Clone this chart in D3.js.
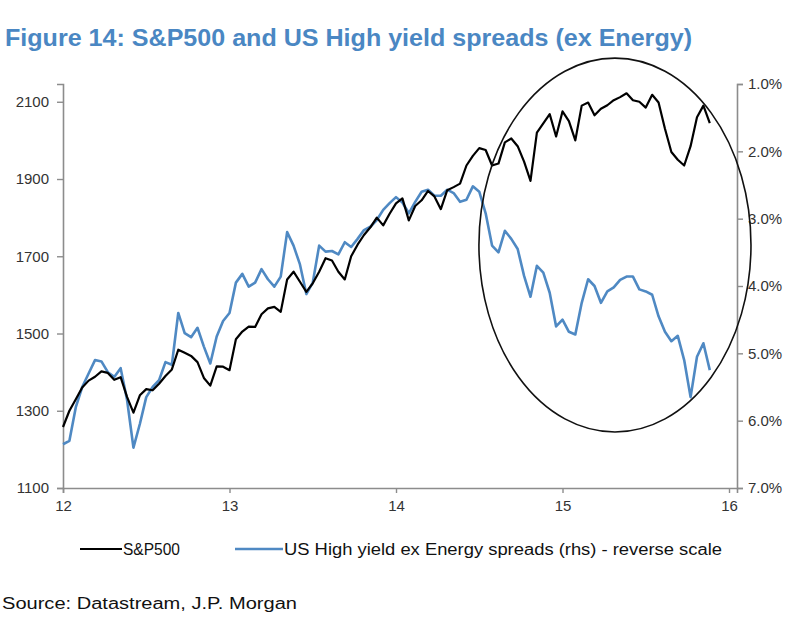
<!DOCTYPE html>
<html>
<head>
<meta charset="utf-8">
<script src="https://cdn.jsdelivr.net/npm/d3@7"></script>
<style>
  body { margin: 0; background: #fff; }
  text { font-family: "Liberation Sans", Arial, sans-serif; }
</style>
</head>
<body>
<div id="chart"></div>
<script>
// Data (roughly one point every two weeks from Jan 2012)
var sp500 = [
    1258, 1300, 1330, 1360, 1378, 1388, 1402, 1398, 1380, 1387,
    1336, 1295, 1340, 1356, 1353, 1370, 1390, 1407, 1458, 1450,
    1442, 1426, 1385, 1365, 1415, 1414, 1405, 1485, 1505, 1518,
    1517, 1550, 1565, 1569, 1556, 1640, 1660, 1634, 1608, 1630,
    1660, 1695, 1689, 1660, 1640, 1700, 1730, 1755, 1775, 1800,
    1780, 1810, 1837, 1850, 1793, 1830, 1845, 1869, 1855, 1822,
    1871, 1879, 1888, 1935, 1960, 1980, 1975, 1935, 1940, 1995,
    2005, 1985, 1945, 1895, 2020, 2044, 2068, 2010, 2075, 2050,
    2000, 2090, 2098, 2065, 2082, 2091, 2104, 2112, 2122, 2104,
    2100, 2085, 2118, 2098, 2030, 1970, 1950, 1935, 1985, 2060,
    2090, 2045
];

var hySpread = [
    6.35, 6.30, 5.80, 5.50, 5.30, 5.10, 5.12, 5.28, 5.35, 5.22,
    5.69, 6.40, 6.05, 5.65, 5.50, 5.40, 5.13, 5.17, 4.40, 4.70,
    4.76, 4.62, 4.90, 5.15, 4.75, 4.52, 4.40, 3.95, 3.82, 4.01,
    3.95, 3.75, 3.90, 4.01, 3.86, 3.20, 3.40, 3.68, 4.12, 3.95,
    3.40, 3.49, 3.48, 3.53, 3.35, 3.42, 3.30, 3.17, 3.12, 3.02,
    2.87, 2.77, 2.68, 2.76, 2.92, 2.75, 2.60, 2.57, 2.66, 2.66,
    2.57, 2.62, 2.75, 2.72, 2.52, 2.60, 2.92, 3.40, 3.50, 3.18,
    3.30, 3.45, 3.85, 4.16, 3.70, 3.80, 4.10, 4.60, 4.50, 4.68,
    4.72, 4.25, 3.90, 4.00, 4.25, 4.08, 4.02, 3.91, 3.86, 3.86,
    4.05, 4.08, 4.13, 4.45, 4.68, 4.82, 4.74, 5.10, 5.65, 5.05,
    4.85, 5.25
];

var startYear = 12;
var pointsPerYear = 26;

var xTicks = [12, 13, 14, 15, 16];
var leftTicks = [1100, 1300, 1500, 1700, 1900, 2100];
var rightTicks = [1, 2, 3, 4, 5, 6, 7];

var seriesNames = ["S&P500", "US High yield ex Energy spreads (rhs) - reverse scale"];

// circled area: centre (year, S&P level) and radii in the same units
var circleArea = { cx: 15.315, cy: 1729, rx: 0.817, ry: 484 };

var svgWidth = 812;
var svgHeight = 633;

var margin = { top: 84, left: 63, right: 75, bottom: 145 };
var width = svgWidth - margin.left - margin.right;
var height = svgHeight - margin.top - margin.bottom;

var blue = "#4f89c3";
var axisColor = "#8c8c8c";

var svg = d3.select("#chart")
    .append("svg")
    .attr("width", svgWidth)
    .attr("height", svgHeight);

svg.append("rect")
    .attr("width", svgWidth)
    .attr("height", svgHeight)
    .attr("fill", "#fff");

// Title
svg.append("text")
    .attr("x", 5)
    .attr("y", 46)
    .attr("fill", "#4a87c3")
    .style("font-size", "24px")
    .style("font-weight", "bold")
    .attr("textLength", 687)
    .attr("lengthAdjust", "spacingAndGlyphs")
    .text("Figure 14: S&P500 and US High yield spreads (ex Energy)");

var chartGroup = svg.append("g")
    .attr("transform", `translate(${margin.left}, ${margin.top})`);

// Scales
var xScale = d3.scaleLinear()
    .domain([12, 16.048])
    .range([0, width]);

var yLeft = d3.scaleLinear()
    .domain([1100, 2146])
    .range([height, 0]);

// reverse scale: tight spreads at the top
var yRight = d3.scaleLinear()
    .domain([1, 7])
    .range([0, height]);

var dateOf = function(i) { return startYear + i / pointsPerYear; };

// Axes
var bottomAxis = d3.axisBottom(xScale)
    .tickValues(xTicks)
    .tickFormat(d3.format("d"))
    .tickSizeOuter(0)
    .tickSize(5)
    .tickPadding(7);

var leftAxis = d3.axisLeft(yLeft)
    .tickValues(leftTicks)
    .tickFormat(d3.format("d"))
    .tickSizeOuter(0)
    .tickSize(6)
    .tickPadding(8);

var rightAxis = d3.axisRight(yRight)
    .tickValues(rightTicks)
    .tickFormat(function(d) { return d3.format(".1f")(d) + "%"; })
    .tickSizeOuter(0)
    .tickSize(6)
    .tickPadding(5);

function styleAxis(g) {
    g.select(".domain").attr("stroke", axisColor).attr("stroke-width", 1.6);
    g.selectAll(".tick line").attr("stroke", axisColor).attr("stroke-width", 1.4);
    g.selectAll(".tick text")
        .attr("fill", "#333")
        .style("font-size", "15px")
        .style("font-family", "'Liberation Sans', Arial, sans-serif");
}

chartGroup.append("g")
    .attr("transform", `translate(0, ${height})`)
    .call(bottomAxis)
    .call(styleAxis);

chartGroup.append("g")
    .call(leftAxis)
    .call(styleAxis);

chartGroup.append("g")
    .attr("transform", `translate(${width}, 0)`)
    .call(rightAxis)
    .call(styleAxis);

// Lines
var spLine = d3.line()
    .x(function(d, i) { return xScale(dateOf(i)); })
    .y(function(d) { return yLeft(d); });

var hyLine = d3.line()
    .x(function(d, i) { return xScale(dateOf(i)); })
    .y(function(d) { return yRight(d); });

chartGroup.append("path")
    .datum(hySpread)
    .attr("d", hyLine)
    .attr("fill", "none")
    .attr("stroke", blue)
    .attr("stroke-width", 2.6)
    .attr("stroke-linejoin", "round");

chartGroup.append("path")
    .datum(sp500)
    .attr("d", spLine)
    .attr("fill", "none")
    .attr("stroke", "#000")
    .attr("stroke-width", 2.2)
    .attr("stroke-linejoin", "round");

// Circle annotation
chartGroup.append("ellipse")
    .attr("cx", xScale(circleArea.cx))
    .attr("cy", yLeft(circleArea.cy))
    .attr("rx", xScale(startYear + circleArea.rx) - xScale(startYear))
    .attr("ry", yLeft(1100) - yLeft(1100 + circleArea.ry))
    .attr("fill", "none")
    .attr("stroke", "#111")
    .attr("stroke-width", 1.6);

// Legend
var legendY = 549;
var legend = svg.append("g");

legend.append("line")
    .attr("x1", 80).attr("x2", 122)
    .attr("y1", legendY).attr("y2", legendY)
    .attr("stroke", "#000")
    .attr("stroke-width", 2.2);

legend.append("text")
    .attr("x", 123)
    .attr("y", legendY + 6)
    .style("font-size", "16px")
    .attr("fill", "#111")
    .attr("textLength", 57)
    .attr("lengthAdjust", "spacingAndGlyphs")
    .text(seriesNames[0]);

legend.append("line")
    .attr("x1", 235).attr("x2", 283)
    .attr("y1", legendY).attr("y2", legendY)
    .attr("stroke", blue)
    .attr("stroke-width", 2.6);

legend.append("text")
    .attr("x", 284)
    .attr("y", legendY + 6)
    .style("font-size", "16px")
    .attr("fill", "#111")
    .attr("textLength", 438)
    .attr("lengthAdjust", "spacingAndGlyphs")
    .text(seriesNames[1]);

// Source
svg.append("text")
    .attr("x", 2)
    .attr("y", 609)
    .style("font-size", "16px")
    .attr("fill", "#111")
    .attr("textLength", 295)
    .attr("lengthAdjust", "spacingAndGlyphs")
    .text("Source: Datastream, J.P. Morgan");
</script>
</body>
</html>
